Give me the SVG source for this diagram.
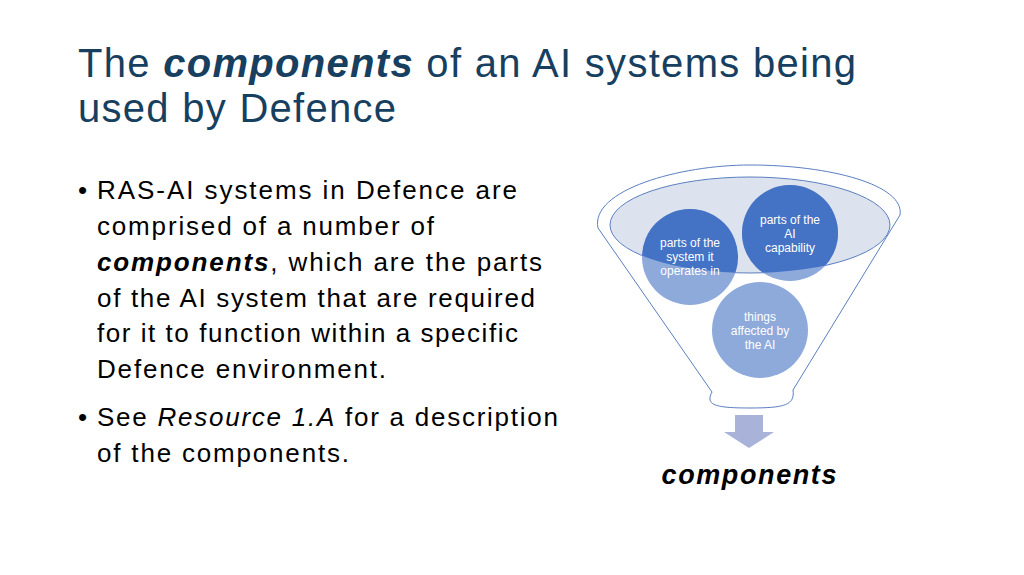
<svg xmlns="http://www.w3.org/2000/svg" width="1024" height="575" viewBox="0 0 1024 575">
<style>
.t{font-family:"Liberation Sans",Arial,sans-serif;fill:#000}
.h{font-family:"Liberation Sans",Arial,sans-serif;fill:#173f5f;font-size:40px}
.c{font-family:"Liberation Sans",Arial,sans-serif;fill:#fff;font-size:12px;text-anchor:middle}
</style>
<defs><clipPath id="ec"><ellipse cx="750" cy="225" rx="140" ry="48"/></clipPath></defs>
<rect width="1024" height="575" fill="#fff"/>
<g id="title"><text class="h" x="78" y="77" textLength="778" lengthAdjust="spacing">The <tspan font-weight="bold" font-style="italic">components</tspan> of an AI systems being</text>
<text class="h" x="78" y="122" textLength="318" lengthAdjust="spacing">used by Defence</text></g>
<g id="bullets" class="t" font-size="26">
<text x="78" y="199">•</text><text x="97" y="199" textLength="420" lengthAdjust="spacing">RAS-AI systems in Defence are</text>
<text x="97" y="235" textLength="337" lengthAdjust="spacing">comprised of a number of</text>
<text x="97" y="271" textLength="445" lengthAdjust="spacing"><tspan font-weight="bold" font-style="italic">components</tspan>, which are the parts</text>
<text x="97" y="307" textLength="438" lengthAdjust="spacing">of the AI system that are required</text>
<text x="97" y="342" textLength="421" lengthAdjust="spacing">for it to function within a specific</text>
<text x="97" y="378" textLength="289" lengthAdjust="spacing">Defence environment.</text>
<text x="78" y="426">•</text><text x="97" y="426" textLength="461" lengthAdjust="spacing">See <tspan font-style="italic">Resource 1.A</tspan> for a description</text>
<text x="97" y="462" textLength="252" lengthAdjust="spacing">of the components.</text>
</g>
<g id="funnel">
<path d="M598,228 C590,190 680,165 750,165 C830,165 905,185 900,215 L793,390 C795,405 785,408 750,408 C715,408 705,405 712,392 Z" fill="#fff" stroke="#5b7fc0" stroke-width="1"/>
<ellipse cx="750" cy="225" rx="140" ry="48" fill="#dde2ef" stroke="#5b7fc0" stroke-width="1"/>
</g>
<g id="n1"><circle cx="690" cy="257" r="48" fill="#8eaadb"/><circle cx="690" cy="257" r="48" fill="#4472c4" clip-path="url(#ec)"/>
<text class="c" x="690" y="247">parts of the</text><text class="c" x="690" y="261">system it</text><text class="c" x="690" y="275">operates in</text></g>
<g id="n2"><circle cx="790" cy="233" r="48" fill="#8eaadb"/><circle cx="790" cy="233" r="48" fill="#4472c4" clip-path="url(#ec)"/>
<text class="c" x="790" y="224">parts of the</text><text class="c" x="790" y="238">AI</text><text class="c" x="790" y="252">capability</text></g>
<g id="n3"><circle cx="760" cy="330" r="48" fill="#8eaadb"/>
<text class="c" x="760" y="321">things</text><text class="c" x="760" y="335">affected by</text><text class="c" x="760" y="349">the AI</text></g>
<g id="connectors"><path d="M735,415 H763 V432 H774 L749,448 L724,432 H735 Z" fill="#a9b3d9"/></g>
<g id="label"><text class="t" x="749" y="484" font-size="27" font-weight="bold" font-style="italic" text-anchor="middle" textLength="175" lengthAdjust="spacing">components</text></g>
</svg>
